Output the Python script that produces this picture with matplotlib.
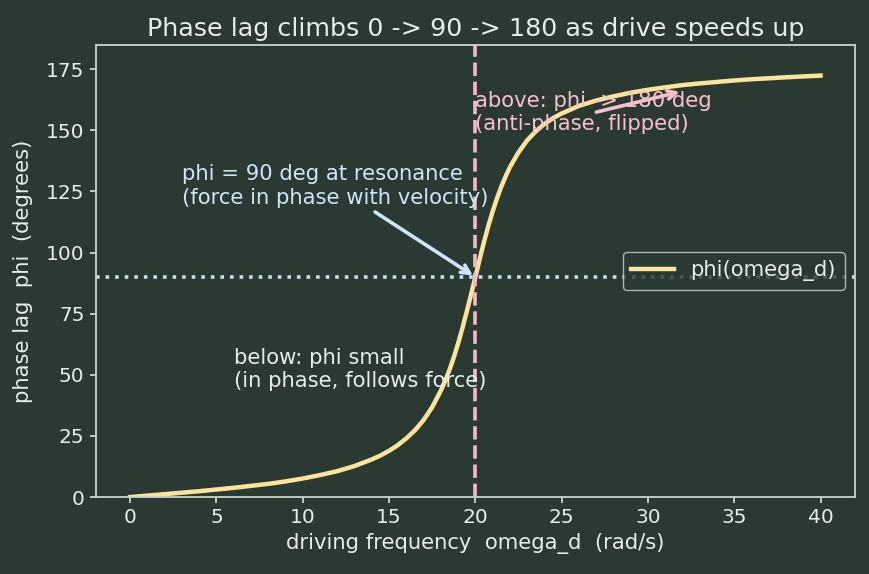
import numpy as np
import matplotlib.pyplot as plt

# values
omega_d = [0, 2, 4, 6, 8, 9, 10, 11, 12, 13, 14, 14.5, 15, 15.5, 16, 16.5, 17, 17.5,
           18, 18.25, 18.5, 18.75, 19, 19.25, 19.5, 19.75, 20, 20.25, 20.5, 20.75,
           21, 21.25, 21.5, 21.75, 22, 22.5, 23, 23.5, 24, 24.5, 25, 26, 27, 28, 29,
           30, 31, 32, 33, 35, 36, 38, 40]
phi = [0, 1.2, 2.4, 3.8, 5.4, 6.4, 7.6, 9.0, 10.6, 12.7, 15.4, 17.0, 18.9, 21.2,
       24.0, 27.3, 31.5, 36.8, 43.5, 47.5, 52.0, 57.1, 62.8, 69.1, 75.8, 82.8, 90.0,
       97.3, 104.3, 110.8, 116.8, 122.1, 126.9, 131.1, 134.9, 141.0, 145.9, 149.6,
       152.6, 155.0, 156.9, 160.0, 162.2, 163.9, 165.4, 166.6, 167.6, 168.5, 169.2,
       170.4, 170.9, 171.7, 172.4]
omega_0 = 20

bg = '#2a3a33'
fg = '#e6ece6'
spine = '#c8d6cc'

plt.rcParams['font.family'] = 'DejaVu Sans'
fig, ax = plt.subplots(figsize=(8.69, 5.74), dpi=100)
fig.patch.set_facecolor(bg)
ax.set_facecolor(bg)

ax.plot(omega_d, phi, color='#fde49a', lw=3.2, label='phi(omega_d)')
ax.axvline(omega_0, color='#f7b8c6', ls='--', lw=2.6)
ax.axhline(90, color='#bfe0f0', ls=':', lw=2.6)

ax.annotate('phi = 90 deg at resonance\n(force in phase with velocity)',
            xy=(20, 90), xytext=(3, 120), color='#cfe6fa', fontsize=15.2,
            arrowprops=dict(arrowstyle='->', color='#cfe6fa', lw=2.6))
ax.annotate('above: phi -> 180 deg\n(anti-phase, flipped)',
            xy=(32, 166), xytext=(20, 150), color='#f7c0cc', fontsize=15.2,
            arrowprops=dict(arrowstyle='->', color='#f7c0cc', lw=2.6))
ax.text(6, 45, 'below: phi small\n(in phase, follows force)', color=fg, fontsize=15.2)

ax.set_xlim(-2, 42)
ax.set_ylim(0, 185)
ax.set_title('Phase lag climbs 0 -> 90 -> 180 as drive speeds up', color=fg, fontsize=18.3)
ax.set_xlabel('driving frequency  omega_d  (rad/s)', color=fg, fontsize=15.2)
ax.set_ylabel('phase lag  phi  (degrees)', color=fg, fontsize=15.2, labelpad=9)
ax.tick_params(colors=spine, labelcolor=fg, labelsize=14.5, width=1.3, length=4.5)
for s in ax.spines.values():
    s.set_color(spine)
    s.set_linewidth(1.3)

leg = ax.legend(loc='center right', fontsize=15.2, facecolor=bg, edgecolor=spine)
for t in leg.get_texts():
    t.set_color(fg)

fig.subplots_adjust(left=0.110, right=0.984, top=0.922, bottom=0.134)
fig.savefig('out.png', facecolor=bg)
